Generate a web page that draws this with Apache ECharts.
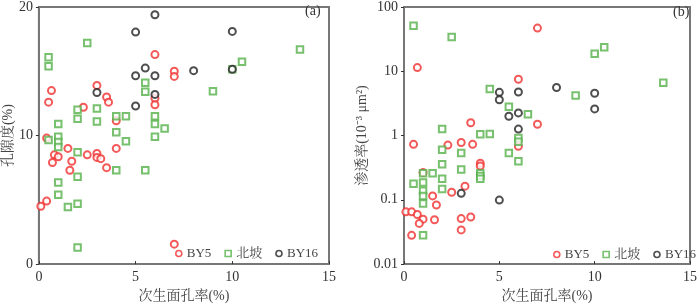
<!DOCTYPE html>
<html><head><meta charset="utf-8">
<script src="https://cdn.jsdelivr.net/npm/echarts@6/dist/echarts.min.js"></script>
<style>html,body{margin:0;padding:0;background:#fff}#c{width:700px;height:308px}</style>
</head><body><div id="c"></div>
<script>
var seriesNames = ['BY5', '北坡', 'BY16'];
var xTicks = [0, 5, 10, 15];
var yTicksA = [0, 10, 20];
var yTicksB = [0.01, 0.1, 1, 10, 100];

// (a) 孔隙度 vs 次生面孔率
var by5A = [[0.65,13.5],[0.5,12.6],[3,13.9],[3.5,13.0],[3.6,12.6],[2.3,12.2],[4,11.15],[6,16.3],[6,12.9],[6,12.4],[7,15.0],[7,14.6],[0.4,9.8],[0.8,8.5],[0.7,7.9],[1,8.35],[1.5,9.0],[1.7,8.0],[1.6,7.3],[2.5,8.5],[3,8.6],[3,8.3],[3.2,8.2],[3.5,7.5],[4,9.0],[0.1,4.5],[0.4,4.9],[7,1.55]];
var beipoA = [[2.5,17.2],[0.5,16.1],[0.5,15.4],[5.5,14.1],[5.5,13.4],[2,12.0],[3,12.1],[2,11.3],[3,11.1],[1,10.9],[4,11.5],[4.5,11.5],[6,11.5],[6,10.9],[6.5,10.55],[1,9.9],[6,9.9],[13.5,16.7],[10.5,15.75],[10,15.15],[9,13.45],[0.5,9.65],[1,9.5],[1,9.1],[2,8.7],[4,10.25],[4.5,9.55],[4,7.3],[5.5,7.3],[2,6.8],[1,6.35],[1,5.4],[1.5,4.45],[2,4.7],[2,1.3]];
var by16A = [[6,19.4],[5,18.05],[5.5,15.25],[5,14.65],[6,14.65],[3,13.35],[6,13.2],[5,12.3],[10,18.1],[8,15.05],[10,15.15]];

// (b) 渗透率 vs 次生面孔率
var by5B = [[0.7,11.4],[6,7.5],[3.5,1.58],[0.5,0.73],[2.3,0.71],[3,0.78],[3.6,0.73],[6,0.68],[7,47],[7,1.5],[4,0.37],[4,0.335],[1,0.265],[3.2,0.163],[2.5,0.131],[1.5,0.115],[1.7,0.083],[0.1,0.065],[0.4,0.065],[0.7,0.059],[1,0.05],[0.8,0.043],[1.6,0.049],[3,0.051],[3.5,0.054],[3,0.034],[0.4,0.028]];
var beipoB = [[0.5,51],[2.5,34],[4.5,5.3],[5.5,2.8],[6.5,2.15],[2,1.27],[4,1.05],[4.5,1.06],[6,0.92],[6,0.8],[2,0.6],[10.5,23.7],[10,18.8],[13.6,6.6],[9,4.2],[3,0.535],[5.5,0.535],[6,0.4],[2,0.357],[1,0.26],[1.5,0.26],[3,0.297],[4,0.258],[4,0.235],[4,0.212],[2,0.212],[2,0.148],[0.5,0.178],[1,0.186],[1,0.138],[1,0.115],[1,0.088],[1,0.028]];
var by16B = [[5,4.7],[5,3.6],[6,4.75],[5.5,2.0],[6,2.25],[6,1.26],[8,5.6],[10,4.55],[10,2.6],[3,0.126],[5,0.099]];

var FONT = '"Liberation Serif", "Noto Serif CJK SC", "Noto Sans CJK SC", serif';
var AX = '#777';
var colors = {'BY5':'#f03030','北坡':'#55b04a','BY16':'#222222'};
var symbols = {'BY5':'emptyCircle','北坡':'emptyRect','BY16':'emptyCircle'};

function xAxis(gi){
  return {gridIndex:gi,type:'value',min:0,max:15,interval:5,
    name:'次生面孔率(%)',nameLocation:'middle',nameGap:24,
    nameTextStyle:{fontFamily:FONT,fontSize:14,color:'#444'},
    axisLine:{lineStyle:{color:AX,width:2}},
    axisTick:{inside:true,length:3,lineStyle:{color:'#333'}},
    axisLabel:{fontFamily:FONT,fontSize:14,color:'#333',margin:6,
      formatter:function(v){return xTicks.indexOf(v)>=0?String(v):'';}},
    splitLine:{show:false}};
}
function mk(name, gi, data){
  return {name:name,type:'scatter',xAxisIndex:gi,yAxisIndex:gi,data:data,
    symbol:symbols[name],symbolSize:name==='北坡'?6.5:7,
    itemStyle:{color:colors[name],borderColor:colors[name],borderWidth:1.4},
    emphasis:{disabled:true}};
}
var legendData = seriesNames.map(function(n){
  return {name:n,icon:n==='北坡'?'rect':'circle',
    itemStyle:{color:'#fff',borderColor:colors[n],borderWidth:1.6}};
});
var legendBase = {data:legendData,itemWidth:6,itemHeight:6,itemGap:13,width:200,orient:'horizontal',
  textStyle:{fontFamily:FONT,fontSize:13,color:'#444'}};

var chart = echarts.init(document.getElementById('c'),null,{renderer:'canvas'});
chart.setOption({
  animation:false,
  grid:[
    {left:38,top:2,width:291,height:268,show:true,borderColor:AX,borderWidth:2,backgroundColor:'transparent'},
    {left:404,top:2,width:293,height:268,show:true,borderColor:AX,borderWidth:2,backgroundColor:'transparent'}
  ],
  xAxis:[xAxis(0),xAxis(1)],
  yAxis:[
    {gridIndex:0,type:'value',min:0,max:20,interval:10,
      name:'孔隙度(%)',nameLocation:'middle',nameGap:18,
      nameTextStyle:{fontFamily:FONT,fontSize:14,color:'#444'},
      axisLine:{lineStyle:{color:AX,width:2}},
      axisTick:{length:3,lineStyle:{color:'#333'}},
      axisLabel:{fontFamily:FONT,fontSize:14,color:'#333',margin:6,
        formatter:function(v){return yTicksA.indexOf(v)>=0?String(v):'';}},
      splitLine:{show:false}},
    {gridIndex:1,type:'log',logBase:10,min:0.01,max:100,
      name:'渗透率(10⁻³ μm²)',nameLocation:'middle',nameGap:21,
      nameTextStyle:{fontFamily:FONT,fontSize:14,color:'#444'},
      axisLine:{lineStyle:{color:AX,width:2}},
      axisTick:{length:3,lineStyle:{color:'#333'}},
      axisLabel:{fontFamily:FONT,fontSize:14,color:'#333',margin:6,
        formatter:function(v){
          for(var i=0;i<yTicksB.length;i++){ if(Math.abs(v-yTicksB[i])<1e-9*yTicksB[i]+1e-12) return String(yTicksB[i]); }
          return '';}},
      splitLine:{show:false}}
  ],
  legend:[
    Object.assign({},legendBase,{left:170,top:242}),
    Object.assign({},legendBase,{left:548,top:243})
  ],
  graphic:[
    {type:'text',left:305,top:4,style:{text:'(a)',font:'14px '+FONT,fill:'#333'}},
    {type:'text',left:673,top:5,style:{text:'(b)',font:'14px '+FONT,fill:'#333'}}
  ],
  series:[
    mk('BY5',0,by5A),mk('北坡',0,beipoA),mk('BY16',0,by16A),
    mk('BY5',1,by5B),mk('北坡',1,beipoB),mk('BY16',1,by16B)
  ]
});
</script></body></html>
